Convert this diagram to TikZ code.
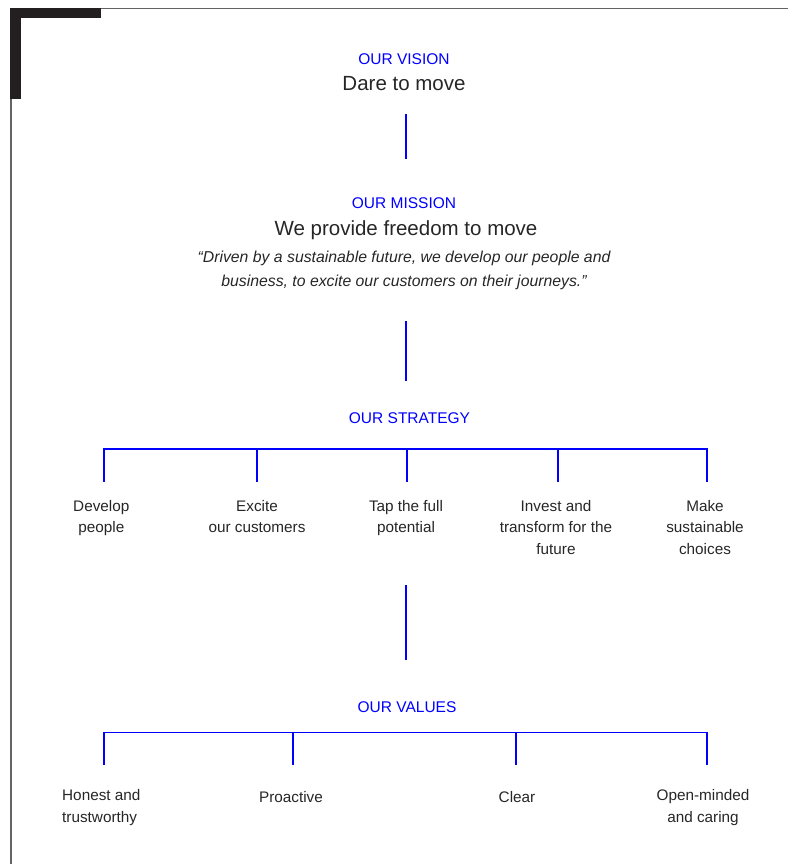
\documentclass[tikz,border=0pt]{standalone}
\usepackage{fontspec}
\setmainfont{Liberation Sans}
\definecolor{orgblue}{RGB}{0,0,255}
\definecolor{orgtext}{RGB}{38,38,38}
\definecolor{orgframe}{RGB}{100,100,100}
\definecolor{orgcorner}{RGB}{35,31,32}
\tikzset{
 headlabel/.style={anchor=base,text=orgblue,inner sep=0pt,font=\fontsize{15.5}{18}\selectfont},
 bigline/.style={anchor=base,text=orgtext,inner sep=0pt,font=\fontsize{20.5}{24}\selectfont},
 itemlabel/.style={anchor=base,text=orgtext,inner sep=0pt,align=center,font=\fontsize{15.3}{21.7}\selectfont},
 quoteline/.style={anchor=base,text=orgtext,inner sep=0pt,align=center,font=\fontsize{15.8}{24.5}\selectfont\itshape},
}
\begin{document}
\begin{tikzpicture}[x=1pt,y=-1pt]%
% vision, mission, strategy and values chart
\ifx\orglw\undefined\newdimen\orglw\fi
\global\def\orgdraw{\draw[orgblue,line width=\orglw]}
\orglw=1.1bp
\useasboundingbox (0,0) rectangle (788,864);
% frame and corner
\draw[orgframe,line width=1.2bp] (788,8.5) -- (11,8.5) -- (11,864);
\fill[orgcorner] (10,8) rectangle (101,18);
\fill[orgcorner] (10,8) rectangle (21,99);
% vision
\node[headlabel] (vision) at (404,64.3) {OUR VISION};
\node[bigline] (dare) at (404,90.7) {Dare to move};
\coordinate (v1) at (406,114);
\coordinate (v2) at (406,159);
\orgdraw (v1) -- (v2);
% mission
\node[headlabel] (mission) at (404,208.3) {OUR MISSION};
\node[bigline] (provide) at (406,235) {We provide freedom to move};
\node[quoteline] (quote) at (404,286.5) {“Driven by a sustainable future, we develop our people and\\business, to excite our customers on their journeys.”};
\coordinate (m1) at (406,321);
\coordinate (m2) at (406,381);
\orgdraw (m1) -- (m2);
% strategy
\node[headlabel] (strategy) at (409.5,423.3) {OUR STRATEGY};
\foreach \x/\n in {104/1,257/2,407/3,558/4,707/5}{
 \coordinate (sb\n) at (\x,449);
 \coordinate (se\n) at (\x,482);
}
\orgdraw (se1) -- (sb1) -- (sb5) -- (se5);
\foreach \n in {2,3,4} \orgdraw (sb\n) -- (se\n);
\node[itemlabel] (develop) at (101.3,532.7) {Develop\\people};
\node[itemlabel] (excite) at (257,532.7) {Excite\\our customers};
\node[itemlabel] (tap) at (406,532.7) {Tap the full\\potential};
\node[itemlabel] (invest) at (556,554.4) {Invest and\\transform for the\\future};
\node[itemlabel] (make) at (705,554.4) {Make\\sustainable\\choices};
\coordinate (t1) at (406,585);
\coordinate (t2) at (406,660);
\orgdraw[line width=1.5bp] (t1) -- (t2);
% values
\node[headlabel] (values) at (407,712.3) {OUR VALUES};
\foreach \x/\n in {104/1,293/2,516/3,707/4}{
 \coordinate (vb\n) at (\x,732.5);
 \coordinate (ve\n) at (\x,765);
}
\orgdraw (ve1) -- (vb1) -- (vb4) -- (ve4);
\foreach \n in {2,3} \orgdraw (vb\n) -- (ve\n);
\node[itemlabel,anchor=base west,align=left] (honest) at (62,822) {Honest and\\trustworthy};
\node[itemlabel] (proactive) at (291,802) {Proactive};
\node[itemlabel] (clear) at (517,802) {Clear};
\node[itemlabel] (open) at (703,822) {Open-minded\\and caring};
\end{tikzpicture}
\end{document}
